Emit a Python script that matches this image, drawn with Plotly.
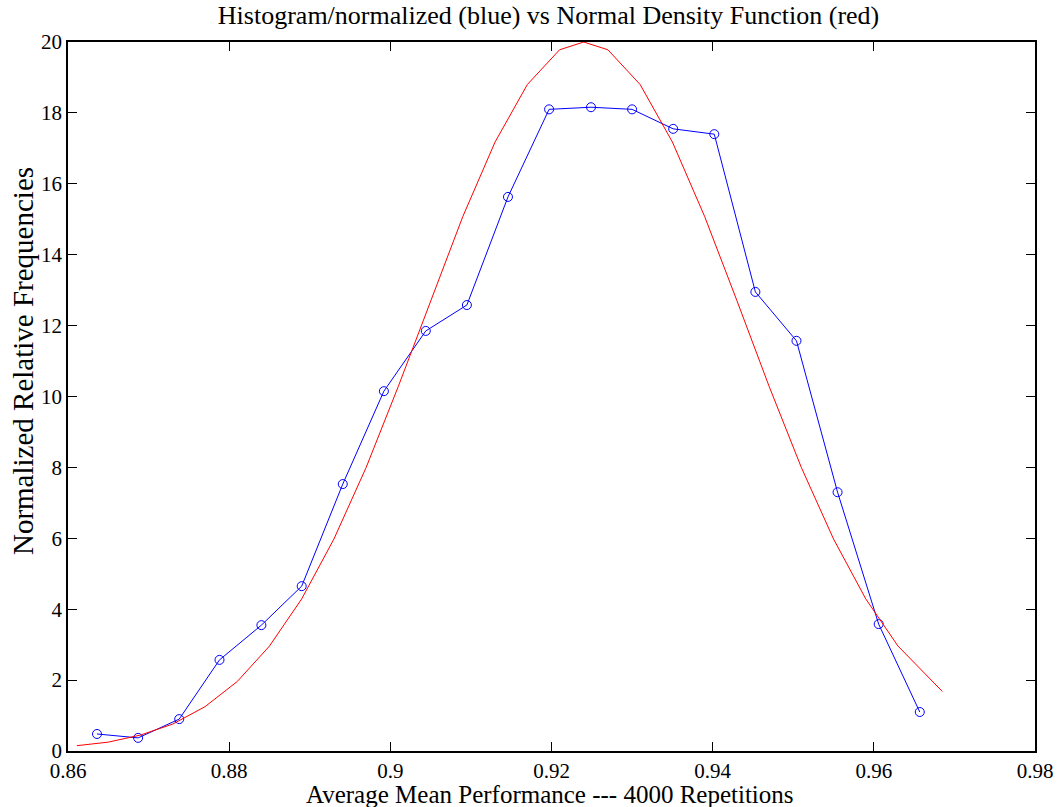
import plotly.graph_objects as go

# Histogram (normalized) - blue
hist_x = [0.8636, 0.8687, 0.8738, 0.8788, 0.8840, 0.8890, 0.8941, 0.8992, 0.9044,
          0.9095, 0.9146, 0.9197, 0.9249, 0.9300, 0.9351, 0.9402, 0.9453, 0.9504,
          0.9555, 0.9606, 0.9657]
hist_y = [0.48, 0.37, 0.90, 2.57, 3.55, 4.65, 7.53, 10.15, 11.85,
          12.58, 15.63, 18.10, 18.16, 18.10, 17.55, 17.40, 12.95, 11.57,
          7.30, 3.58, 1.10]

# Normal density (red)
norm_x = [0.8611, 0.865, 0.869, 0.873, 0.877, 0.881, 0.885, 0.889, 0.893, 0.897,
          0.901, 0.905, 0.909, 0.913, 0.917, 0.921, 0.924, 0.927, 0.931, 0.935,
          0.939, 0.943, 0.947, 0.951, 0.955, 0.959, 0.963, 0.9685]
norm_y = [0.15, 0.25, 0.45, 0.76, 1.25, 1.96, 2.96, 4.29, 5.98, 8.00,
          10.29, 12.71, 15.08, 17.18, 18.80, 19.78, 20.00, 19.78, 18.80, 17.18,
          15.08, 12.71, 10.29, 8.00, 5.98, 4.29, 2.96, 1.68]

x_ticks = [0.86, 0.88, 0.90, 0.92, 0.94, 0.96, 0.98]
x_tick_text = ["0.86", "0.88", "0.9", "0.92", "0.94", "0.96", "0.98"]
y_ticks = [0, 2, 4, 6, 8, 10, 12, 14, 16, 18, 20]

title_text = "Histogram/normalized (blue) vs Normal Density Function (red)"
x_label = "Average Mean Performance --- 4000 Repetitions"
y_label = "Normalized Relative Frequencies"

FONT = "Liberation Serif, Times New Roman, serif"

fig = go.Figure()
fig.add_trace(go.Scatter(x=hist_x, y=hist_y, mode="lines+markers",
                         line=dict(color="#0000ff", width=1),
                         marker=dict(symbol="circle-open", size=9, color="#0000ff",
                                     line=dict(width=1)),
                         showlegend=False))
fig.add_trace(go.Scatter(x=norm_x, y=norm_y, mode="lines",
                         line=dict(color="#ff0000", width=1),
                         showlegend=False))

axis_common = dict(showgrid=False, zeroline=False, showline=True, linecolor="black",
                   linewidth=1.5, mirror="ticks", ticks="inside", ticklen=9,
                   tickcolor="black", tickwidth=1, automargin=False,
                   tickfont=dict(family=FONT, size=21, color="black"))

fig.update_layout(
    width=1059, height=807,
    margin=dict(l=68, r=24, t=42, b=56, autoexpand=False),
    paper_bgcolor="white", plot_bgcolor="white",
    title=dict(text=title_text,
               x=0.518, xanchor="center", xref="container",
               y=0.982, yanchor="middle", yref="container",
               font=dict(family=FONT, size=26, color="black")),
    xaxis=dict(range=[0.86, 0.98], tickvals=x_ticks, ticktext=x_tick_text,
               **axis_common),
    yaxis=dict(range=[0, 20], tickvals=y_ticks, **axis_common),
    annotations=[
        dict(text=x_label, xref="paper", yref="paper", x=0.5, y=0,
             xanchor="center", yanchor="middle", xshift=-2, yshift=-43,
             showarrow=False, font=dict(family=FONT, size=25, color="black")),
        dict(text=y_label, xref="paper", yref="paper", x=0, y=0.55,
             xanchor="center", yanchor="middle", xshift=-45, textangle=-90,
             showarrow=False, font=dict(family=FONT, size=29, color="black")),
    ],
)

fig.write_html("out.html",
               config={"displayModeBar": False},
               post_script=("document.body.style.margin='0';"
                            "document.body.style.padding='0';"
                            "document.body.style.overflow='hidden';"
                            "document.documentElement.style.overflow='hidden';"))
